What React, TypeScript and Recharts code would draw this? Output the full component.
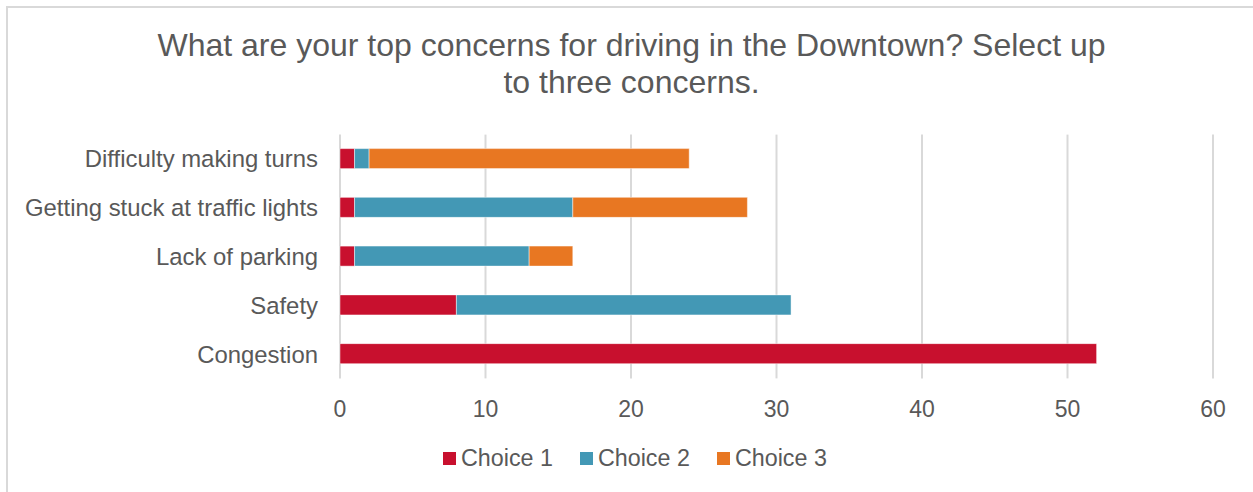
import React from "react";
import { BarChart, Bar, XAxis, YAxis, CartesianGrid, Legend } from "recharts";

// survey answers (top row first)
const categories = [
  "Difficulty making turns",
  "Getting stuck at traffic lights",
  "Lack of parking",
  "Safety",
  "Congestion",
];
const choice1 = [1, 1, 1, 8, 52];
const choice2 = [1, 15, 12, 23, 0];
const choice3 = [22, 12, 3, 0, 0];
const xTicks = [0, 10, 20, 30, 40, 50, 60];

const seriesNames = ["Choice 1", "Choice 2", "Choice 3"];
const seriesColors = ["#C8102E", "#4398B5", "#E87722"];

const data = categories.map((name, i) => ({
  name,
  c1: choice1[i],
  c2: choice2[i],
  c3: choice3[i],
}));

const FONT = "'Liberation Sans', Arial, sans-serif";
const TEXT = "#595959";

function LegendRow() {
  return (
    <div style={{ display: "flex", alignItems: "center", height: 28, paddingLeft: 443 }}>
      {seriesNames.map((n, i) => (
        <div key={n} style={{ display: "flex", alignItems: "center", marginRight: 27 }}>
          <span style={{ width: 13, height: 13, background: seriesColors[i], display: "inline-block", marginRight: 5 }} />
          <span style={{ fontFamily: FONT, fontSize: 23.3, color: TEXT, lineHeight: "28px" }}>{n}</span>
        </div>
      ))}
    </div>
  );
}

export default function App() {
  return (
    <div style={{ position: "absolute", left: 0, top: 0, width: 1253, height: 492, background: "#fff", overflow: "hidden" }}>
      <div style={{ position: "absolute", left: 6, top: 6, width: 1300, height: 600, borderLeft: "2px solid #d9d9d9", borderTop: "2px solid #d9d9d9" }} />
      <div
        style={{
          position: "absolute", left: 0, top: 27.3, width: 1263, textAlign: "center",
          fontFamily: FONT, fontSize: 32, lineHeight: "36.6px", color: TEXT,
        }}
      >
        What are your top concerns for driving in the Downtown? Select up
        <br />
        to three concerns.
      </div>
      <BarChart
        width={1253}
        height={492}
        data={data}
        layout="vertical"
        margin={{ top: 134.6, right: 40, bottom: 73.6, left: 0 }}
        style={{ position: "absolute", left: 0, top: 0 }}
      >
        <CartesianGrid horizontal={false} stroke="#d9d9d9" strokeWidth={2} />
        <XAxis
          type="number"
          domain={[0, 60]}
          ticks={xTicks}
          height={40}
          axisLine={false}
          tickLine={false}
          tickSize={0}
          tickMargin={22}
          tick={{ fill: TEXT, fontSize: 23, fontFamily: FONT }}
        />
        <YAxis
          type="category"
          dataKey="name"
          width={340}
          axisLine={false}
          tickLine={false}
          tickSize={0}
          tickMargin={22}
          tick={{ fill: TEXT, fontSize: 23.9, fontFamily: FONT }}
        />
        <Legend verticalAlign="middle" align="center" wrapperStyle={{ top: 444, left: 0, width: 1253 }} content={() => <LegendRow />} />
        <Bar dataKey="c1" name={seriesNames[0]} stackId="a" fill={seriesColors[0]} barSize={20} stroke="rgba(255,255,255,0.45)" strokeWidth={1} isAnimationActive={false} />
        <Bar dataKey="c2" name={seriesNames[1]} stackId="a" fill={seriesColors[1]} barSize={20} stroke="rgba(255,255,255,0.45)" strokeWidth={1} isAnimationActive={false} />
        <Bar dataKey="c3" name={seriesNames[2]} stackId="a" fill={seriesColors[2]} barSize={20} stroke="rgba(255,255,255,0.45)" strokeWidth={1} isAnimationActive={false} />
      </BarChart>
    </div>
  );
}
